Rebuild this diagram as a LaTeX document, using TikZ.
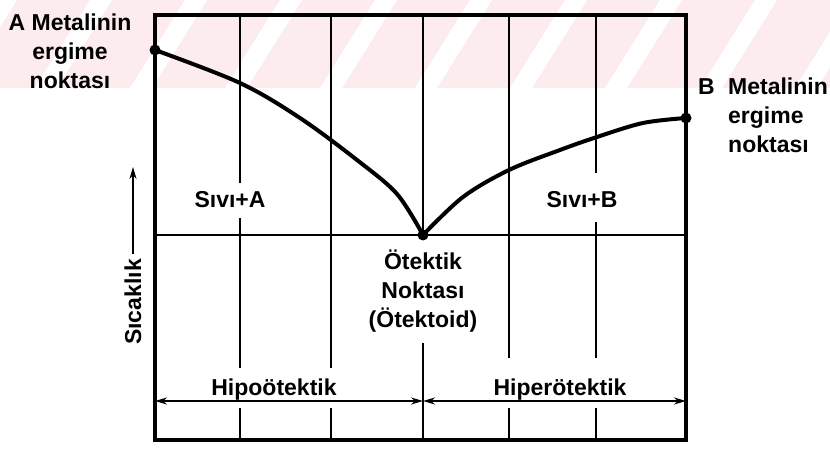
\documentclass[tikz,border=0pt]{standalone}
\usepackage{fontspec}
\setmainfont{Liberation Sans}
\usetikzlibrary{arrows.meta}
\definecolor{wmpink}{RGB}{253,236,238}

\begin{document}
\begin{tikzpicture}[x=1pt,y=-1pt,
    every node/.style={font=\fontsize{23}{29}\selectfont\bfseries,inner sep=0pt},
    frame/.style={line width=3.4pt},
    grid/.style={line width=1.6pt},
    curve/.style={line width=4pt,line join=round,line cap=round},
    dim/.style={line width=1.6pt,{Stealth[length=12pt,width=7pt]}-{Stealth[length=12pt,width=7pt]}}]
  \useasboundingbox (0,0) rectangle (830,449);
  \begin{scope}
    \clip (0,0) rectangle (830,88);
    \fill[wmpink] (0,0) rectangle (830,88);
    \foreach \s in {-60,35,...,830}
      \fill[white] (\s,88) -- (\s+22,88) -- (\s+77,0) -- (\s+55,0) -- cycle;
  \end{scope}
  \draw[frame] (155,15) rectangle (686,440);
  \draw[grid] (155,235) -- (686,235);
  \draw[grid] (240,15) -- (240,183) (240,218) -- (240,368) (240,408) -- (240,440);
  \draw[grid] (331,15) -- (331,368) (331,408) -- (331,440);
  \draw[grid] (423,15) -- (423,235) (423,343) -- (423,440);
  \draw[grid] (509,15) -- (509,358) (509,408) -- (509,440);
  \draw[grid] (596,15) -- (596,173) (596,222) -- (596,358) (596,408) -- (596,440);
  \coordinate (A) at (155,50);
  \coordinate (E) at (423,235);
  \coordinate (B) at (686,118);
  \draw[curve] plot[smooth,tension=0.55] coordinates {(A) (240,83) (300,118) (357,160) (397,194) (E)};
  \draw[curve] plot[smooth,tension=0.55] coordinates {(E) (463,197) (509,170) (560,150) (597,137) (643,123) (B)};
  \foreach \p in {A,E,B}
    \fill (\p) circle[radius=5.5pt];
  \node[anchor=north,align=center] (alab) at (70,14) {A Metalinin\\ergime\\noktası};
  \node[anchor=base west] (bname) at (698,95) {B};
  \node[anchor=north west,align=left] (blab) at (728,78) {Metalinin\\ergime\\noktası};
  \node[anchor=base] (sa) at (230,208) {Sıvı+A};
  \node[anchor=base] (sb) at (582,208) {Sıvı+B};
  \node[anchor=north,align=center] (elab) at (423,250) {Ötektik\\Noktası\\(Ötektoid)};
  \node[anchor=base] (hipo) at (274,395) {Hipoötektik};
  \node[anchor=base] (hiper) at (560,395) {Hiperötektik};
  \node[rotate=90] (temp) at (133,302) {Sıcaklık};
  \coordinate (ttop) at (133,167);
  \draw[line width=1.8pt,-{Stealth[length=12pt,width=7pt]}] ([yshift=5pt]temp.east) -- (ttop);
  \coordinate (L) at (155,401);
  \coordinate (M) at (423,401);
  \coordinate (R) at (686,401);
  \draw[dim] (L) -- (M);
  \draw[dim] (M) -- (R);
\end{tikzpicture}
\end{document}
